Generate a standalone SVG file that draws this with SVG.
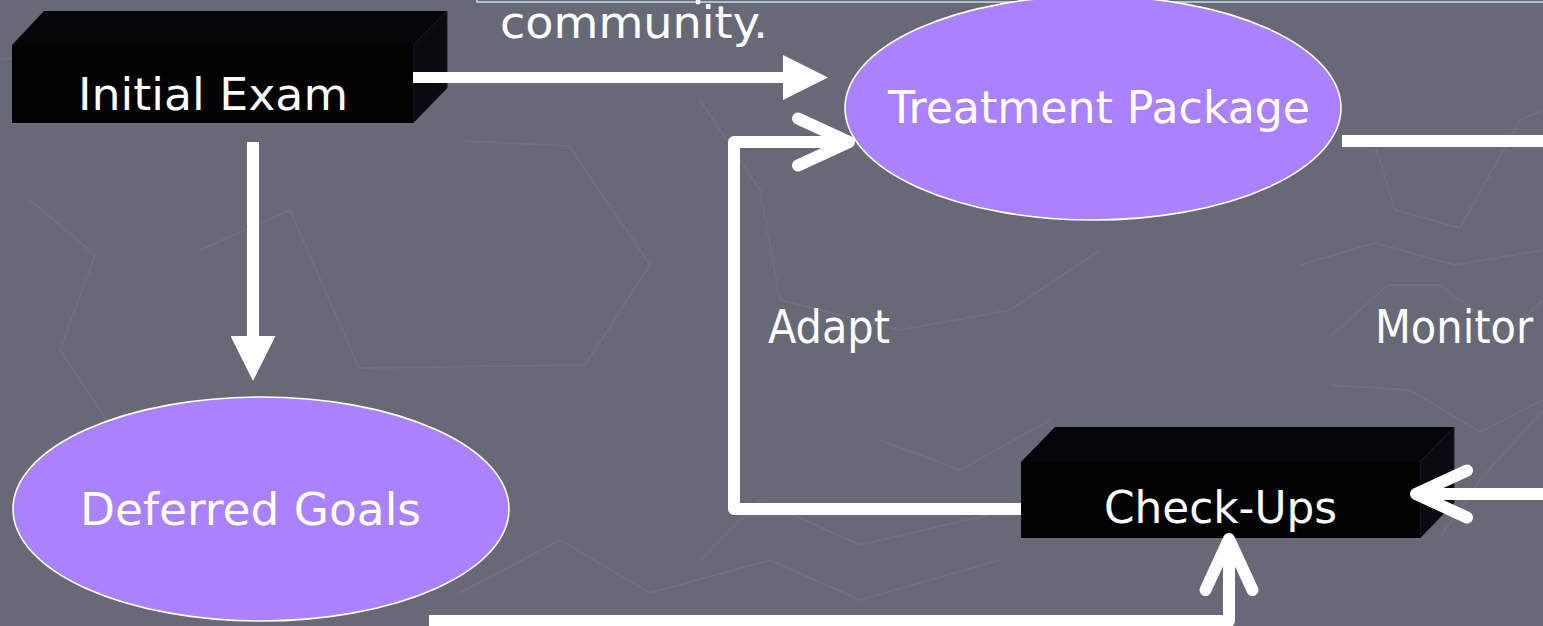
<svg xmlns="http://www.w3.org/2000/svg" width="1543" height="626" viewBox="0 0 1543 626">
  <style>
    .bg { fill: #676976; }
    .deco { fill: none; stroke: #6f717e; stroke-width: 2; stroke-linejoin: round; }
    .front { fill: #020203; }
    .top { fill: #050507; }
    .side { fill: #0a0b10; stroke: #1c1d24; stroke-width: 1; }
    .oval { fill: #aa82fe; stroke: #ffffff; stroke-width: 1.6; }
    .label { fill: #ffffff; font-family: "Comic Sans MS", "DejaVu Sans", sans-serif; font-size: 45px; }
    .note { fill: #ffffff; font-family: "DejaVu Sans Condensed", "DejaVu Sans", sans-serif; font-stretch: condensed; font-size: 46px; }
    .wire { fill: none; stroke: #ffffff; stroke-width: 12; stroke-linejoin: round; }
    .wire-thin { fill: none; stroke: #ffffff; stroke-width: 11; }
  </style>
  <defs>
    <marker id="solid-head" markerUnits="userSpaceOnUse" viewBox="0 0 45 45" markerWidth="45" markerHeight="45" refX="0" refY="22.5" orient="auto">
      <path d="M0,0 L45,22.5 L0,45 Z" fill="#ffffff"/>
    </marker>
    <marker id="open-head" markerUnits="userSpaceOnUse" viewBox="-62 -32 72 64" markerWidth="72" markerHeight="64" refX="0" refY="0" orient="auto" overflow="visible">
      <path d="M-51,-23.5 L0,0 L-51,23.5" fill="none" stroke="#ffffff" stroke-width="12" stroke-linecap="round" stroke-linejoin="round"/>
    </marker>
  </defs>

  <!-- backdrop -->
  <rect class="bg" x="0" y="0" width="1543" height="626"/>
  <g id="backdrop-lines">
    <polyline class="deco" points="464,141 569,146 650,265 585,365 359,368 290,210 200,250"/>
    <polyline class="deco" points="0,60 120,40 210,120 300,60 420,20"/>
    <polyline class="deco" points="30,200 95,255 60,350 120,440 100,520"/>
    <polyline class="deco" points="700,100 760,190 780,300 900,330 1010,310 1100,250"/>
    <polyline class="deco" points="700,560 760,500 860,545 1010,510"/>
    <polyline class="deco" points="1375,145 1395,210 1460,228 1520,120 1543,110"/>
    <polyline class="deco" points="1300,265 1375,243 1455,265 1543,250"/>
    <polyline class="deco" points="1330,337 1388,285 1440,285 1505,335 1543,300"/>
    <polyline class="deco" points="1330,385 1410,390 1480,432 1543,400"/>
    <polyline class="deco" points="460,593 560,540 650,593 770,560 860,600 1000,560"/>
    <polyline class="deco" points="880,440 960,470 1050,420"/>
    <polyline class="deco" points="1100,130 1180,60 1260,40"/>
    <polyline class="deco" points="1440,537 1480,480 1543,410"/>
  </g>

  <!-- edge of the caption frame above -->
  <g id="caption">
    <rect x="477" y="-30" width="1080" height="32" fill="none" stroke="#c6dfe3" stroke-width="1.5"/>
    <circle cx="698" cy="2" r="2.5" fill="#ffffff"/>
    <text class="label" x="500" y="38" textLength="268" lengthAdjust="spacingAndGlyphs">community.</text>
  </g>

  <!-- nodes -->
  <g id="initial-exam">
    <polygon class="top" points="12,45 44,11 447,11 413,45"/>
    <polygon class="side" points="413,45 447,11 447,88 413,123"/>
    <rect class="front" x="12" y="45" width="401" height="78"/>
    <text class="label" x="78" y="110" textLength="270" lengthAdjust="spacingAndGlyphs">Initial Exam</text>
  </g>

  <g id="treatment-package">
    <ellipse class="oval" cx="1093" cy="108" rx="248" ry="112"/>
    <text class="label" x="888" y="123" textLength="422" lengthAdjust="spacingAndGlyphs">Treatment Package</text>
  </g>

  <g id="deferred-goals">
    <ellipse class="oval" cx="261" cy="509" rx="248" ry="112"/>
    <text class="label" x="80" y="525" textLength="341" lengthAdjust="spacingAndGlyphs">Deferred Goals</text>
  </g>

  <g id="check-ups">
    <polygon class="top" points="1021,462 1055,427 1454,427 1420,462"/>
    <polygon class="side" points="1420,462 1454,427 1454,503 1420,538"/>
    <rect class="front" x="1021" y="462" width="399" height="76"/>
    <text class="label" x="1104" y="523" textLength="233" lengthAdjust="spacingAndGlyphs">Check-Ups</text>
  </g>

  <g id="labels">
    <text class="note" x="768" y="343" textLength="122" lengthAdjust="spacingAndGlyphs">Adapt</text>
    <text class="note" x="1375" y="343" textLength="158" lengthAdjust="spacingAndGlyphs">Monitor</text>
  </g>

  <!-- connectors, drawn over the box faces -->
  <g id="connectors">
    <path class="wire-thin" d="M413,77.5 L783,77.5" marker-end="url(#solid-head)"/>
    <path class="wire" d="M253,142 L253,336" stroke-linejoin="miter" marker-end="url(#solid-head)"/>
    <path class="wire" d="M1021,509 L734,509 L734,142 L849,142" marker-end="url(#open-head)"/>
    <path class="wire" d="M1342,141 L1560,141 L1560,494 L1416,494" marker-end="url(#open-head)"/>
    <path class="wire" d="M429,621 L1229,621 L1229,539" marker-end="url(#open-head)"/>
  </g>
</svg>
